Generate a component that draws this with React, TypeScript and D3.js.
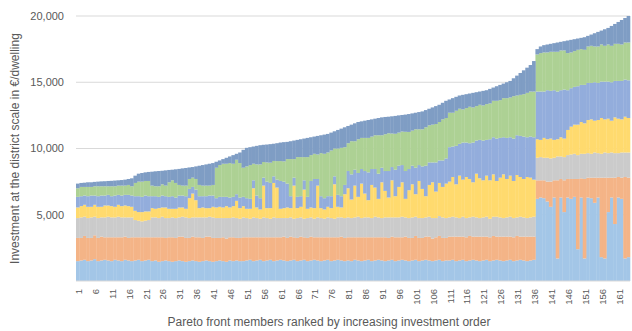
import React from "react";
import * as d3 from "d3";

// Pareto front members 1..164
const categories: number[] = Array.from({ length: 164 }, (_, i) => i + 1);
const tickLabels: string[] = ["1","6","11","16","21","26","31","36","41","46","51","56","61","66","71","76","81","86","91","96","101","106","111","116","121","126","131","136","141","146","151","156","161"];
const yTicks: number[] = [5000, 10000, 15000, 20000];

const s1: number[] = [
1500,1550,1600,1500,1550,1650,1500,1550,1600,1550,1500,1600,1550,1500,1600,1550,1500,
1550,1600,1500,1550,1600,
1500,1550,1450,1500,1550,1500,1450,1500,1550,1500,1450,1500,1550,1500,1450,1500,1550,1500,1450,
1500,1550,1500,1450,1550,1500,1550,1500,1500,
1550,1600,1500,1550,1600,1500,1550,1600,1500,1550,1600,1550,1500,1550,1600,1500,1550,1600,1500,1550,1600,1550,1500,1550,1600,1500,1550,1600,1550,1500,
1550,1500,1600,1550,1500,1550,1600,1500,1550,1600,1550,1500,1550,1600,1500,1550,1600,1550,1500,1550,1600,1500,1550,1600,1550,1500,1550,1600,1500,1550,
1550,1600,1500,1550,1600,1500,1550,1600,1550,1500,1550,1600,1500,1550,1600,1550,1500,1550,1600,1500,1550,1600,1550,1500,1550,1600,
6200,6300,6250,6000,5600,6300,1700,6300,5200,
6300,6200,6350,2400,6300,1700,6300,6250,5900,6300,1800,1700,5200,6300,4300,6300,6200,1700,1800];

const s2: number[] = [
1750,1700,1800,1750,1700,1800,1750,1800,1700,1750,1800,1700,1750,1800,1750,1700,1800,
1750,1700,1800,1750,1700,
1800,1750,1850,1800,1700,1800,1850,1750,1800,1850,1800,1750,1800,1800,1850,1750,1800,1850,1800,
1750,1700,1800,1750,1750,1800,1700,1750,1800,
1750,1700,1800,1750,1700,1800,1750,1700,1800,1750,1700,1800,1750,1800,1700,1750,1800,1700,1750,1800,1700,1750,1800,1750,1700,1800,1750,1700,1800,1750,
1750,1800,1700,1750,1800,1750,1700,1800,1750,1700,1750,1800,1700,1750,1800,1750,1700,1800,1750,1700,1800,1750,1700,1750,1800,1700,1750,1800,1750,1700,
1800,1750,1850,1800,1750,1800,1850,1750,1800,1850,1800,1750,1800,1850,1750,1800,1850,1800,1750,1800,1850,1750,1800,1850,1800,1750,
1400,1300,1350,1500,1900,1300,5900,1400,2400,
1400,1500,1350,5300,1450,6000,1500,1550,1900,1500,6000,6100,2600,1500,3500,1550,1600,6150,6000];

const s3: number[] = [
1500,1550,1450,1500,1550,1400,1500,1450,1500,1550,1500,1500,1550,1500,1450,1550,1500,
1300,1250,1200,1250,1300,
1500,1500,1450,1550,1500,1450,1500,1500,1450,1500,1550,1500,1450,1500,1500,1550,1450,1500,1550,
1500,1500,1450,1550,1450,1500,1500,1450,1500,
1450,1400,1500,1450,1400,1500,1450,1400,1500,1450,1450,1400,1500,1450,1400,1500,1450,1400,1500,1450,1400,1500,1450,1400,1500,1450,1400,1500,1450,1500,
1500,1450,1500,1550,1450,1500,1500,1450,1550,1500,1450,1500,1550,1450,1500,1500,1550,1450,1500,1550,1450,1500,1500,1450,1500,1550,1450,1500,1550,1500,
1450,1500,1450,1400,1500,1450,1400,1500,1450,1400,1450,1500,1400,1450,1500,1450,1400,1450,1500,1450,1400,1500,1450,1400,1450,1500,
1700,1750,1700,1800,1750,1700,1800,1700,1750,
1800,1850,1900,1800,1850,1900,1850,1800,1900,1850,1800,1900,1850,1900,1850,1800,1900,1850,1900];

const s4: number[] = [
800,850,900,850,800,900,850,800,900,850,850,800,900,850,900,850,800,
700,650,700,700,650,
700,650,750,700,800,700,650,700,750,700,650,1500,1800,1300,700,750,700,650,800,
800,850,800,900,800,850,1300,800,850,
700,750,2200,800,700,2400,750,800,2600,2300,700,750,800,700,2500,750,800,2200,700,750,800,2400,750,700,800,750,2600,800,750,1800,
2200,1400,2400,1500,2600,1800,1300,2500,2200,1400,2700,2000,1500,2800,1600,2300,2600,1400,2100,2500,1700,2800,2200,1600,2400,2700,2000,2500,2300,2600,
2700,3000,2500,3200,2800,3100,2900,2600,3300,3000,2800,3100,2900,3200,2700,3000,3300,2900,3100,2800,3200,3000,2900,3100,3000,2800,
1400,1300,1500,1400,1500,1350,1300,1450,1400,
1900,2100,2200,2300,2400,2300,2500,2600,2400,2500,2700,2500,2600,2400,2700,2600,2500,2700,2600];

const s5: number[] = [
800,750,700,800,850,700,800,850,750,800,750,850,750,800,800,850,850,
1100,1200,1150,1200,1150,
900,950,850,900,850,900,950,850,900,900,950,700,500,800,900,850,900,950,850,
700,750,800,700,750,700,500,800,700,
800,750,600,900,850,600,2000,1900,500,600,2100,2000,1800,900,600,850,800,700,900,2000,2200,500,900,850,800,900,600,900,850,700,
1300,1900,1200,1800,1100,1700,2100,1200,1400,1900,1100,1500,2000,1000,2000,1600,1300,2100,1600,1400,2000,1200,1700,2300,1700,1500,2200,1700,2000,1900,
2600,2300,2900,2400,2800,2600,2700,3000,2500,2900,3000,2700,3100,2800,3200,3000,2800,3100,2900,3200,3000,3100,3200,3000,3100,3200,
3600,3650,3500,3700,3600,3750,3600,3550,3700,
3000,2900,2850,2900,2800,2900,2800,2750,2900,2800,2750,2850,2800,2900,2750,2850,2900,2800,2850];

const s6: number[] = [
650,700,650,700,650,700,750,700,700,650,750,700,700,750,700,750,700,
1000,1100,1150,1100,1150,
800,750,800,850,800,1100,1200,1100,800,750,800,750,700,800,850,800,800,750,800,
2300,2400,2500,2500,2600,2500,2600,2600,2200,
2400,2550,1250,2350,2550,1180,1450,1530,1160,1400,1500,1530,1850,2800,1400,3000,2950,1750,3000,1950,1900,1850,3250,3350,3300,3450,2100,3500,3650,2850,
2100,2500,2150,2550,2350,2500,2600,2450,2550,2900,2450,2780,2850,2530,2710,2500,2530,2960,2800,2650,2900,2700,2800,2900,2800,2850,2900,2900,3100,3050,
2600,2550,2650,2650,2500,2600,2750,2650,2600,2650,2650,2700,2700,2750,2850,2850,2950,3000,3000,3200,3000,3100,3200,3350,3400,3450,
2800,2900,2950,2850,2950,2900,3000,3000,2950,
2800,2700,2700,2750,2700,2650,2750,2800,2700,2750,2800,2700,2800,2750,2800,2800,2750,2800,2850];

const s7: number[] = [
350,300,320,350,350,330,350,370,380,400,410,430,400,420,450,450,600,
550,600,650,650,680,
1050,1130,1150,1020,1150,930,800,1030,1210,1300,1330,870,800,950,1450,1550,1600,1650,1650,
450,350,350,450,500,650,450,800,1350,
1400,1350,1300,1400,1450,1300,1350,1400,1300,1350,1400,1450,1300,1350,1400,1300,1350,1400,1450,1350,1300,1400,1350,1450,1400,1350,1300,1400,1450,1500,
1300,1250,1350,1300,1250,1300,1350,1300,1250,1300,1350,1300,1250,1300,1350,1300,1250,1300,1350,1300,1250,1300,1350,1300,1250,1300,1350,1300,1250,1300,
1000,1100,1050,1000,1100,1050,1000,1100,1050,1000,1100,1050,1100,1000,1100,1150,1100,1200,1250,1350,1500,1650,1800,1900,2000,2300,
400,500,550,600,600,650,700,650,700,
950,950,900,850,850,950,800,850,1000,1100,1050,1250,1250,1500,1500,1650,1850,1850,2000];

const seriesKeys = ["s1", "s2", "s3", "s4", "s5", "s6", "s7"];
const seriesData = [s1, s2, s3, s4, s5, s6, s7];
const colors = ["#A3C6E7", "#F4B487", "#CBCBCB", "#FFDA6E", "#93ADDC", "#ADD194", "#7F9DC4"];

const W = 632, H = 331;
const M = { left: 76, right: 2, top: 16, bottom: 50 };

export default function App() {
  const rows = categories.map((c, i) => {
    const r: any = { cat: c };
    seriesKeys.forEach((k, j) => (r[k] = seriesData[j][i]));
    return r;
  });
  const stacked = d3.stack<any>().keys(seriesKeys)(rows);
  const x = d3.scaleBand<number>().domain(categories).range([M.left, W - M.right]).padding(0);
  const y = d3.scaleLinear().domain([0, 20000]).range([H - M.bottom, M.top]);
  const fmt = d3.format(",");
  const font = "'Liberation Sans', Arial, sans-serif";
  return (
    <div style={{ position: "fixed", left: 0, top: 0, width: W, height: H, background: "#fff" }}>
      <svg width={W} height={H} style={{ display: "block" }}>
        {yTicks.map((t) => (
          <line key={t} x1={M.left} x2={W - M.right} y1={y(t)} y2={y(t)} stroke="#D9D9D9" strokeWidth={1} />
        ))}
        {stacked.map((layer, li) => (
          <g key={layer.key} fill={colors[li]}>
            {layer.map((d, i) => (
              <rect
                key={i}
                x={x(categories[i])!}
                width={x.bandwidth() + 0.3}
                y={y(d[1])}
                height={Math.max(0, y(d[0]) - y(d[1]))}
              />
            ))}
          </g>
        ))}
        <line x1={M.left} x2={W - M.right} y1={y(0)} y2={y(0)} stroke="#D9D9D9" />
        {yTicks.map((t) => (
          <text key={t} x={M.left - 12} y={y(t)} dy="0.35em" textAnchor="end" fontSize={11} fill="#595959" fontFamily={font}>
            {fmt(t)}
          </text>
        ))}
        {tickLabels.map((l) => {
          const cx = x(+l)! + x.bandwidth() / 2 + 1;
          return (
            <text key={l} transform={`translate(${cx},${y(0) + 8}) rotate(-90)`} textAnchor="end" dy="0.35em" fontSize={9.5} fill="#595959" fontFamily={font}>
              {l}
            </text>
          );
        })}
        <text x={329} y={326} textAnchor="middle" fontSize={12} fill="#595959" fontFamily={font}>
          Pareto front members  ranked by increasing investment order
        </text>
        <text transform={`translate(15,${(M.top + y(0)) / 2}) rotate(-90)`} textAnchor="middle" dy="0.35em" fontSize={12} fill="#595959" fontFamily={font}>
          Investment at the district scale in €/dwelling
        </text>
      </svg>
    </div>
  );
}
